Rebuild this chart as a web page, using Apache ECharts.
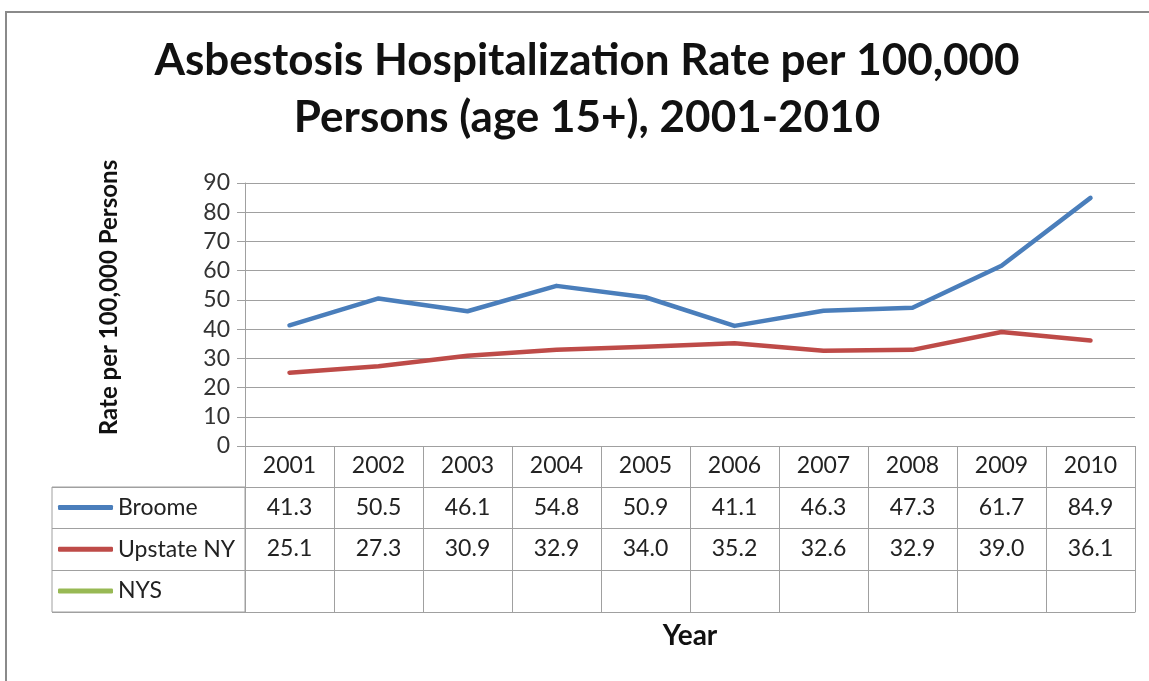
<!DOCTYPE html>
<html>
<head>
<meta charset="utf-8">
<script src="https://cdn.jsdelivr.net/npm/echarts@6/dist/echarts.min.js"></script>
<style>
html,body{margin:0;padding:0;background:#fff;}
#chart{width:1149px;height:681px;}
</style>
</head>
<body>
<div id="chart"></div>
<script>
const years = ['2001','2002','2003','2004','2005','2006','2007','2008','2009','2010'];
const broome = [41.3, 50.5, 46.1, 54.8, 50.9, 41.1, 46.3, 47.3, 61.7, 84.9];
const upstate = [25.1, 27.3, 30.9, 32.9, 34.0, 35.2, 32.6, 32.9, 39.0, 36.1];
const nys = [];
const seriesNames = ['Broome', 'Upstate NY', 'NYS'];
const seriesColors = ['#4A7EBB', '#BE4B48', '#98B954'];
const yMin = 0, yMax = 90, yStep = 10;
const titleText = 'Asbestosis Hospitalization Rate per 100,000\nPersons (age 15+), 2001-2010';

const FONT = 'Lato';
const GRID_LINE = '#a0a0a0';
const TEXT = '#222';

const rowData = [broome, upstate, nys];
const fmt = v => (v === undefined || v === null) ? '' : v.toFixed(1);

const xAxes = [
  {
    type: 'category', gridIndex: 0, data: years, position: 'bottom', boundaryGap: true,
    axisLine: {show: true, lineStyle: {color: GRID_LINE, width: 1}},
    axisTick: {show: true, interval: 0, length: 166, lineStyle: {color: GRID_LINE, width: 1}},
    axisLabel: {show: true, interval: 0, margin: 8, fontFamily: FONT, fontSize: 23, lineHeight: 23, color: TEXT}
  }
];
const offsets = [41, 82, 124];
rowData.forEach((vals, r) => {
  xAxes.push({
    type: 'category', gridIndex: 0, data: years, position: 'bottom', offset: offsets[r], boundaryGap: true,
    axisLine: {show: true, lineStyle: {color: GRID_LINE, width: 1}},
    axisTick: {show: false},
    axisLabel: {show: true, interval: 0, margin: 9, fontFamily: FONT, fontSize: 23, lineHeight: 23, color: TEXT,
      formatter: (v, i) => fmt(vals[i])}
  });
});
xAxes.push({
  type: 'category', gridIndex: 0, data: years, position: 'bottom', offset: 166, boundaryGap: true,
  axisLine: {show: true, lineStyle: {color: GRID_LINE, width: 1}},
  axisTick: {show: false}, axisLabel: {show: false},
  name: 'Year', nameLocation: 'middle', nameGap: 10,
  nameTextStyle: {fontFamily: FONT, fontSize: 28, fontWeight: 'bold', color: '#111', lineHeight: 28}
});
// left legend column grid
xAxes.push({type: 'value', gridIndex: 1, show: false, min: 0, max: 1});

const option = {
  animation: false,
  backgroundColor: '#fff',
  legend: {
    orient: 'vertical', left: 58, top: 487, padding: 0, itemGap: 0.7,
    itemWidth: 55, itemHeight: 5, icon: 'roundRect',
    data: seriesNames,
    textStyle: {fontFamily: FONT, fontSize: 23, color: TEXT, lineHeight: 41}
  },
  graphic: [
    {
      type: 'rect', silent: true, z: -10,
      shape: {x: 6, y: 12, width: 1200, height: 720},
      style: {fill: 'none', stroke: '#8a8a8a', lineWidth: 2}
    },
    {
      type: 'text', silent: true, x: 587, y: 32,
      style: {text: titleText, align: 'center', verticalAlign: 'top',
        fontFamily: FONT, fontSize: 44, fontWeight: 'bold', fill: '#111', lineHeight: 57}
    }
  ],
  grid: [
    {left: 245, right: 14, top: 183, bottom: 235},
    {left: 52, width: 193, top: 487, height: 125, show: true, borderColor: GRID_LINE, borderWidth: 1}
  ],
  xAxis: xAxes,
  yAxis: [
    {
      type: 'value', gridIndex: 0, min: yMin, max: yMax, interval: yStep,
      axisLine: {show: true, lineStyle: {color: GRID_LINE, width: 1}},
      axisTick: {show: true, length: 8, lineStyle: {color: GRID_LINE, width: 1}},
      splitLine: {show: true, lineStyle: {color: GRID_LINE, width: 1}},
      axisLabel: {margin: 15, fontFamily: FONT, fontSize: 23, color: '#333'},
      name: 'Rate per 100,000 Persons', nameLocation: 'middle', nameGap: 124,
      nameTextStyle: {fontFamily: FONT, fontSize: 24, fontWeight: 'bold', color: '#111', padding: [0, 0, 0, 34]}
    },
    {
      type: 'category', gridIndex: 1, data: seriesNames, inverse: true, boundaryGap: true,
      axisLine: {show: false}, axisTick: {show: false}, axisLabel: {show: false},
      splitLine: {show: true, lineStyle: {color: GRID_LINE, width: 1}}
    }
  ],
  series: [
    {name: seriesNames[0], type: 'line', data: broome, xAxisIndex: 0, yAxisIndex: 0, showSymbol: false, symbol: 'none',
      color: seriesColors[0], lineStyle: {width: 4.5, color: seriesColors[0], cap: 'round', join: 'round'}},
    {name: seriesNames[1], type: 'line', data: upstate, xAxisIndex: 0, yAxisIndex: 0, showSymbol: false, symbol: 'none',
      color: seriesColors[1], lineStyle: {width: 4.5, color: seriesColors[1], cap: 'round', join: 'round'}},
    {name: seriesNames[2], type: 'line', data: nys, xAxisIndex: 0, yAxisIndex: 0, showSymbol: false, symbol: 'none',
      color: seriesColors[2], lineStyle: {width: 4.5, color: seriesColors[2], cap: 'round', join: 'round'}}
  ]
};
const chart = echarts.init(document.getElementById('chart'), null, {renderer: 'canvas'});
chart.setOption(option);
</script>
</body>
</html>
